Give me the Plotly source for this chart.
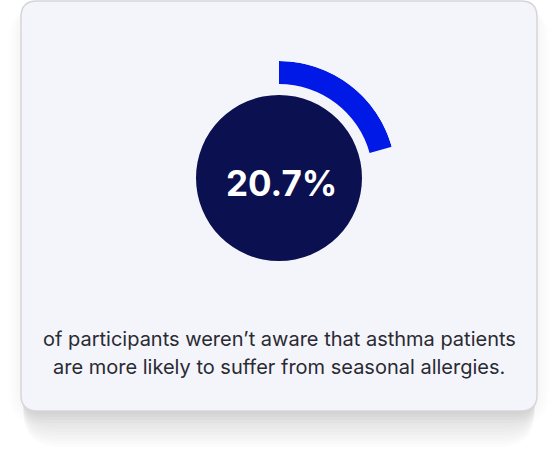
import plotly.graph_objects as go

# stat card: share of participants unaware of the asthma/allergy link
value_pct = 20.7
value_label = "20.7%"
caption_lines = [
    "of participants weren’t aware that asthma patients",
    "are more likely to suffer from seasonal allergies.",
]

W, H = 558, 453

def px(x):
    return x / W

def py(y):
    return 1 - y / H

def rounded_rect(x0, y0, x1, y1, r):
    # pixel coords (top-left origin) -> paper path with quadratic corners
    pts = [
        f"M {px(x0 + r)},{py(y0)}",
        f"L {px(x1 - r)},{py(y0)}",
        f"Q {px(x1)},{py(y0)} {px(x1)},{py(y0 + r)}",
        f"L {px(x1)},{py(y1 - r)}",
        f"Q {px(x1)},{py(y1)} {px(x1 - r)},{py(y1)}",
        f"L {px(x0 + r)},{py(y1)}",
        f"Q {px(x0)},{py(y1)} {px(x0)},{py(y1 - r)}",
        f"L {px(x0)},{py(y0 + r)}",
        f"Q {px(x0)},{py(y0)} {px(x0 + r)},{py(y0)}",
        "Z",
    ]
    return " ".join(pts)

shapes = []
# faint side glow
for g in (3, 6, 9, 12):
    shapes.append(dict(type="path", xref="paper", yref="paper",
                       path=rounded_rect(21 - g, 10, 537 + g, 411 + g, 16 + g),
                       fillcolor="rgba(0,0,0,0.007)", line=dict(width=0), layer="below"))
# shadow below the card
for i in range(1, 13):
    d = 3 * i
    shapes.append(dict(type="path", xref="paper", yref="paper",
                       path=rounded_rect(21 + 2, 300, 537 - 2, 411 + d, 18 + d * 0.5),
                       fillcolor="rgba(0,0,0,0.01)", line=dict(width=0), layer="below"))
# card
shapes.append(dict(type="path", xref="paper", yref="paper",
                   path=rounded_rect(21, 1, 537, 411, 16),
                   fillcolor="#f4f5fb", line=dict(color="#d6d6da", width=1.5), layer="below"))

fig = go.Figure()

arc_deg = value_pct / 100 * 360
# dark disc
fig.add_trace(go.Barpolar(r=[83], base=[0], theta=[0], width=[360],
                          marker=dict(color="#0b1050", line=dict(width=0)),
                          hoverinfo="skip"))
# value arc
fig.add_trace(go.Barpolar(r=[23], base=[94], theta=[arc_deg / 2], width=[arc_deg],
                          marker=dict(color="#0019e6", line=dict(width=0)),
                          hoverinfo="skip"))

cx, cy, R = 279, 178, 117
fig.update_layout(
    width=W, height=H,
    margin=dict(l=0, r=0, t=0, b=0),
    paper_bgcolor="white",
    showlegend=False,
    shapes=shapes,
    polar=dict(
        domain=dict(x=[px(cx - R), px(cx + R)], y=[py(cy + R), py(cy - R)]),
        bgcolor="rgba(0,0,0,0)",
        radialaxis=dict(range=[0, R], visible=False),
        angularaxis=dict(visible=False, rotation=90, direction="clockwise"),
        bargap=0,
    ),
)

fig.add_annotation(x=px(281), y=py(183), xref="paper", yref="paper",
                   text=f"<b>{value_label}</b>", showarrow=False,
                   font=dict(family="Inter", size=35, color="white"),
                   xanchor="center", yanchor="middle")
for i, line in enumerate(caption_lines):
    fig.add_annotation(x=px(279), y=py(339 + i * 28), xref="paper", yref="paper",
                       text=line, showarrow=False,
                       font=dict(family="Inter", size=20, color="#2a2a33"),
                       xanchor="center", yanchor="middle")

fig.write_html("out.html", config={"displayModeBar": False},
               post_script="document.body.style.margin='0';")
